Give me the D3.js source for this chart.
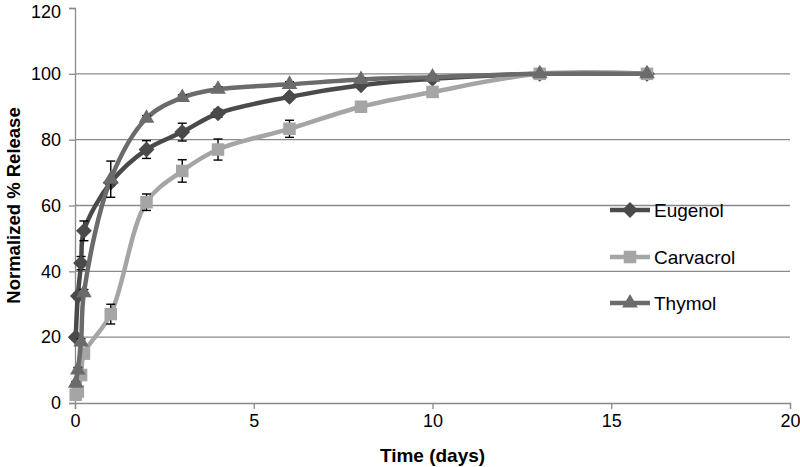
<!DOCTYPE html>
<html><head><meta charset="utf-8">
<script src="https://cdn.jsdelivr.net/npm/d3@7"></script>
<style>body{margin:0;background:#fff;} svg{display:block;font-family:"Liberation Sans",Arial,sans-serif;}</style>
</head><body>
<svg id="c" width="800" height="467"></svg>
<script>
const seriesNames = ["Eugenol", "Carvacrol", "Thymol"];
const days = [0.02, 0.08, 0.17, 0.25, 1, 2, 3, 4, 6, 8, 10, 13, 16];
const eugenol = [20, 32.5, 42.5, 52.3, 67, 77, 82.3, 88, 93, 96.5, 98.5, 100, 100];
const eugenolErr = [0.8, 0.8, 2, 3, 1, 2.7, 2.7, 1.2, 0.8, 0.5, 0.5, 0, 0];
const carvacrol = [2.5, 3.5, 8.5, 15, 27, 61, 70.5, 77, 83.3, 90, 94.5, 100, 100];
const carvacrolErr = [0.5, 0.5, 0.8, 0.8, 3, 2.5, 3.4, 3.2, 2.6, 0.5, 0.5, 0, 0];
const thymol = [6, 10, 18.5, 33.5, 68, 86.5, 92.8, 95.3, 96.8, 98.3, 99, 100, 100];
const thymolErr = [0.5, 0.8, 1, 1, 5.5, 0.8, 0.8, 0.8, 0.8, 0.5, 0.5, 0, 0];
const xTicks = [0, 5, 10, 15, 20];
const yTicks = [0, 20, 40, 60, 80, 100, 120];

const colors = {Eugenol: "#4a4a4a", Carvacrol: "#a5a5a5", Thymol: "#6b6b6b"};
const symbols = {Eugenol: d3.symbolDiamond2, Carvacrol: d3.symbolSquare2, Thymol: d3.symbolTriangle2};
const symSize = {Eugenol: 160, Carvacrol: 200, Thymol: 175};

const series = [
  {name: "Eugenol", values: eugenol, err: eugenolErr},
  {name: "Carvacrol", values: carvacrol, err: carvacrolErr},
  {name: "Thymol", values: thymol, err: thymolErr}
];

const svg = d3.select("#c");
const x = d3.scaleLinear().domain([0, 20]).range([75, 790]);
const y = d3.scaleLinear().domain([0, 120]).range([403, 8]);

// gridlines
svg.append("g").selectAll("line").data(yTicks.filter(t => t > 0 && t < 120)).join("line")
  .attr("x1", x(0)).attr("x2", x(20)).attr("y1", d => y(d)).attr("y2", d => y(d))
  .attr("stroke", "#8a8a8a").attr("stroke-width", 1.3);

// axes
const xAxis = svg.append("g").attr("transform", `translate(0,${y(0)})`)
  .call(d3.axisBottom(x).tickValues(xTicks).tickSize(6).tickPadding(5).tickFormat(d3.format("d")));
const yAxis = svg.append("g").attr("transform", `translate(${x(0)},0)`)
  .call(d3.axisLeft(y).tickValues(yTicks).tickSize(6).tickPadding(8).tickFormat(d3.format("d")));
[xAxis, yAxis].forEach(a => {
  a.select(".domain").attr("stroke", "#8a8a8a").attr("stroke-width", 1.3);
  a.selectAll(".tick line").attr("stroke", "#8a8a8a").attr("stroke-width", 1.3);
  a.selectAll("text").attr("font-size", 18).attr("fill", "#000").attr("font-family", '"Liberation Sans",Arial,sans-serif');
});
// keep the top label inside the frame
yAxis.selectAll(".tick").filter(d => d === 120).select("text").attr("dy", "0.5em");

const line = d3.line().x((d, i) => x(days[i])).y(d => y(d)).curve(d3.curveCatmullRom.alpha(0.5));

series.forEach(s => {
  const g = svg.append("g");
  g.append("path").attr("d", line(s.values)).attr("fill", "none")
    .attr("stroke", colors[s.name]).attr("stroke-width", 4.5);
  const eg = g.append("g").attr("stroke", "#000").attr("stroke-width", 1.4);
  s.values.forEach((v, i) => {
    const e = s.err[i];
    if (!e) return;
    const cx = x(days[i]), y1 = y(v + e), y2 = y(v - e);
    eg.append("line").attr("x1", cx).attr("x2", cx).attr("y1", y1).attr("y2", y2);
    eg.append("line").attr("x1", cx - 4.5).attr("x2", cx + 4.5).attr("y1", y1).attr("y2", y1);
    eg.append("line").attr("x1", cx - 4.5).attr("x2", cx + 4.5).attr("y1", y2).attr("y2", y2);
  });
  g.selectAll("path.m").data(s.values).join("path").attr("class", "m")
    .attr("transform", (d, i) => `translate(${x(days[i])},${y(d)})`)
    .attr("d", d3.symbol().type(symbols[s.name]).size(symSize[s.name]))
    .attr("fill", colors[s.name]);
});

// legend
const legY = [210, 257, 303];
series.forEach((s, i) => {
  const g = svg.append("g").attr("transform", `translate(610,${legY[i]})`);
  g.append("line").attr("x1", 0).attr("x2", 40).attr("stroke", colors[s.name]).attr("stroke-width", 4.5);
  g.append("path").attr("transform", "translate(20,0)")
    .attr("d", d3.symbol().type(symbols[s.name]).size(symSize[s.name])).attr("fill", colors[s.name]);
  g.append("text").attr("x", 44).attr("y", 6.5).attr("font-size", 19).text(s.name);
});

// axis titles
svg.append("text").attr("x", x(10)).attr("y", 462).attr("text-anchor", "middle")
  .attr("font-size", 19).attr("font-weight", "bold").text("Time (days)");
svg.append("text").attr("transform", `translate(20,${y(60)}) rotate(-90)`).attr("text-anchor", "middle")
  .attr("font-size", 18.5).attr("font-weight", "bold").text("Normalized % Release");
</script>
</body></html>
